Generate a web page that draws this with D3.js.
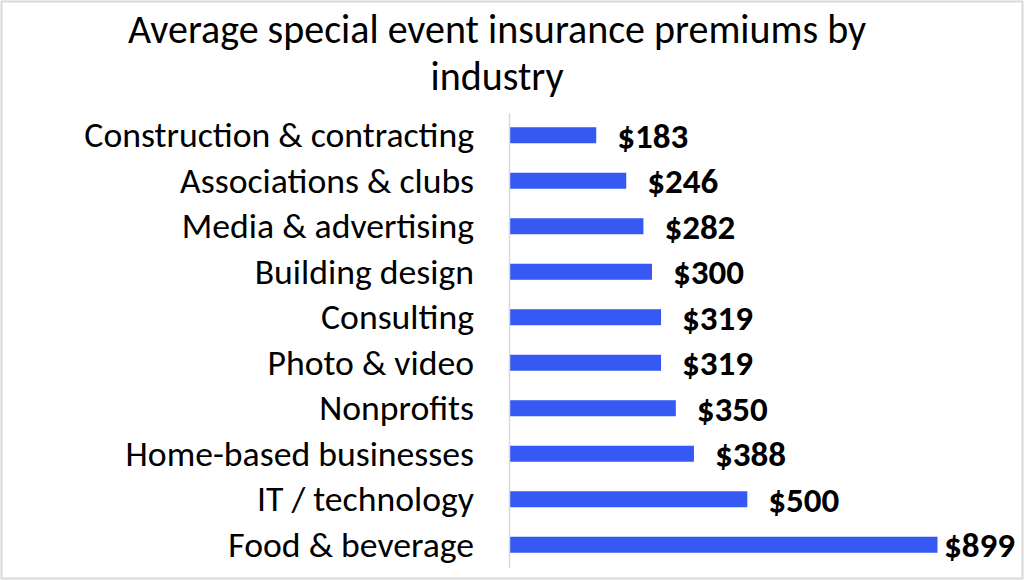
<!DOCTYPE html>
<html>
<head>
<meta charset="utf-8">
<script src="https://cdn.jsdelivr.net/npm/d3@7"></script>
<style>
  body { margin: 0; background: #fff; }
  text { font-family: Carlito, Lato, "Open Sans", sans-serif; fill: #000; }
</style>
</head>
<body>
<div id="chart"></div>
<script>
// data (top to bottom)
var industries = ["Construction & contracting", "Associations & clubs", "Media & advertising",
  "Building design", "Consulting", "Photo & video", "Nonprofits",
  "Home-based businesses", "IT / technology", "Food & beverage"];
var premiums = [183, 246, 282, 300, 319, 319, 350, 388, 500, 899];
var titleLines = ["Average special event insurance premiums by", "industry"];

var w = 1024;
var h = 580;
var barColor = "#3559f2";

var svg = d3.select("#chart")
  .append("svg")
  .attr("width", w)
  .attr("height", h);

// chart border
svg.append("rect")
  .attr("x", 1.5)
  .attr("y", 1.5)
  .attr("width", w - 3)
  .attr("height", h - 3)
  .attr("fill", "#fff")
  .attr("stroke", "#d9d9d9")
  .attr("stroke-width", 2);

// title, two lines
svg.selectAll(".title")
  .data(titleLines)
  .enter()
  .append("text")
  .attr("class", "title")
  .attr("x", 497)
  .attr("y", function(d, i) { return 43 + i * 47; })
  .attr("text-anchor", "middle")
  .attr("font-size", "40px")
  .text(function(d) { return d; });

var x = d3.scaleLinear()
  .domain([0, d3.max(premiums)])
  .range([509, 937.5]);

var y = d3.scaleBand()
  .domain(industries)
  .range([112.5, 567.5])
  .paddingInner(0.648)
  .paddingOuter(0.324);

var rows = industries.map(function(name, i) { return { name: name, value: premiums[i] }; });

// bars
svg.selectAll(".bar")
  .data(rows)
  .enter()
  .append("rect")
  .attr("class", "bar")
  .attr("x", x(0))
  .attr("y", function(d) { return y(d.name); })
  .attr("width", function(d) { return x(d.value) - x(0); })
  .attr("height", y.bandwidth())
  .attr("fill", barColor);

// vertical axis line, no ticks
var yAxis = d3.axisLeft(y).tickSize(0).tickPadding(35);
var gAxis = svg.append("g")
  .attr("transform", "translate(" + x(0) + ",0)")
  .call(yAxis);
gAxis.select(".domain")
  .attr("stroke", "#d9d9d9")
  .attr("stroke-width", 1.5);
gAxis.selectAll(".tick text")
  .attr("font-family", null)
  .attr("font-size", "35.7px")
  .attr("dy", "0.33em");

// value labels, kept inside the chart on the right
var fmt = d3.format("$,");
svg.selectAll(".val")
  .data(rows)
  .enter()
  .append("text")
  .attr("class", "val")
  .attr("y", function(d) { return y(d.name) + y.bandwidth() / 2; })
  .attr("dy", "0.35em")
  .attr("font-size", "35px")
  .attr("font-weight", "bold")
  .text(function(d) { return fmt(d.value); })
  .attr("x", function(d) {
    var tw = this.getComputedTextLength();
    return Math.min(x(d.value) + 21, 1015 - tw);
  });
</script>
</body>
</html>
